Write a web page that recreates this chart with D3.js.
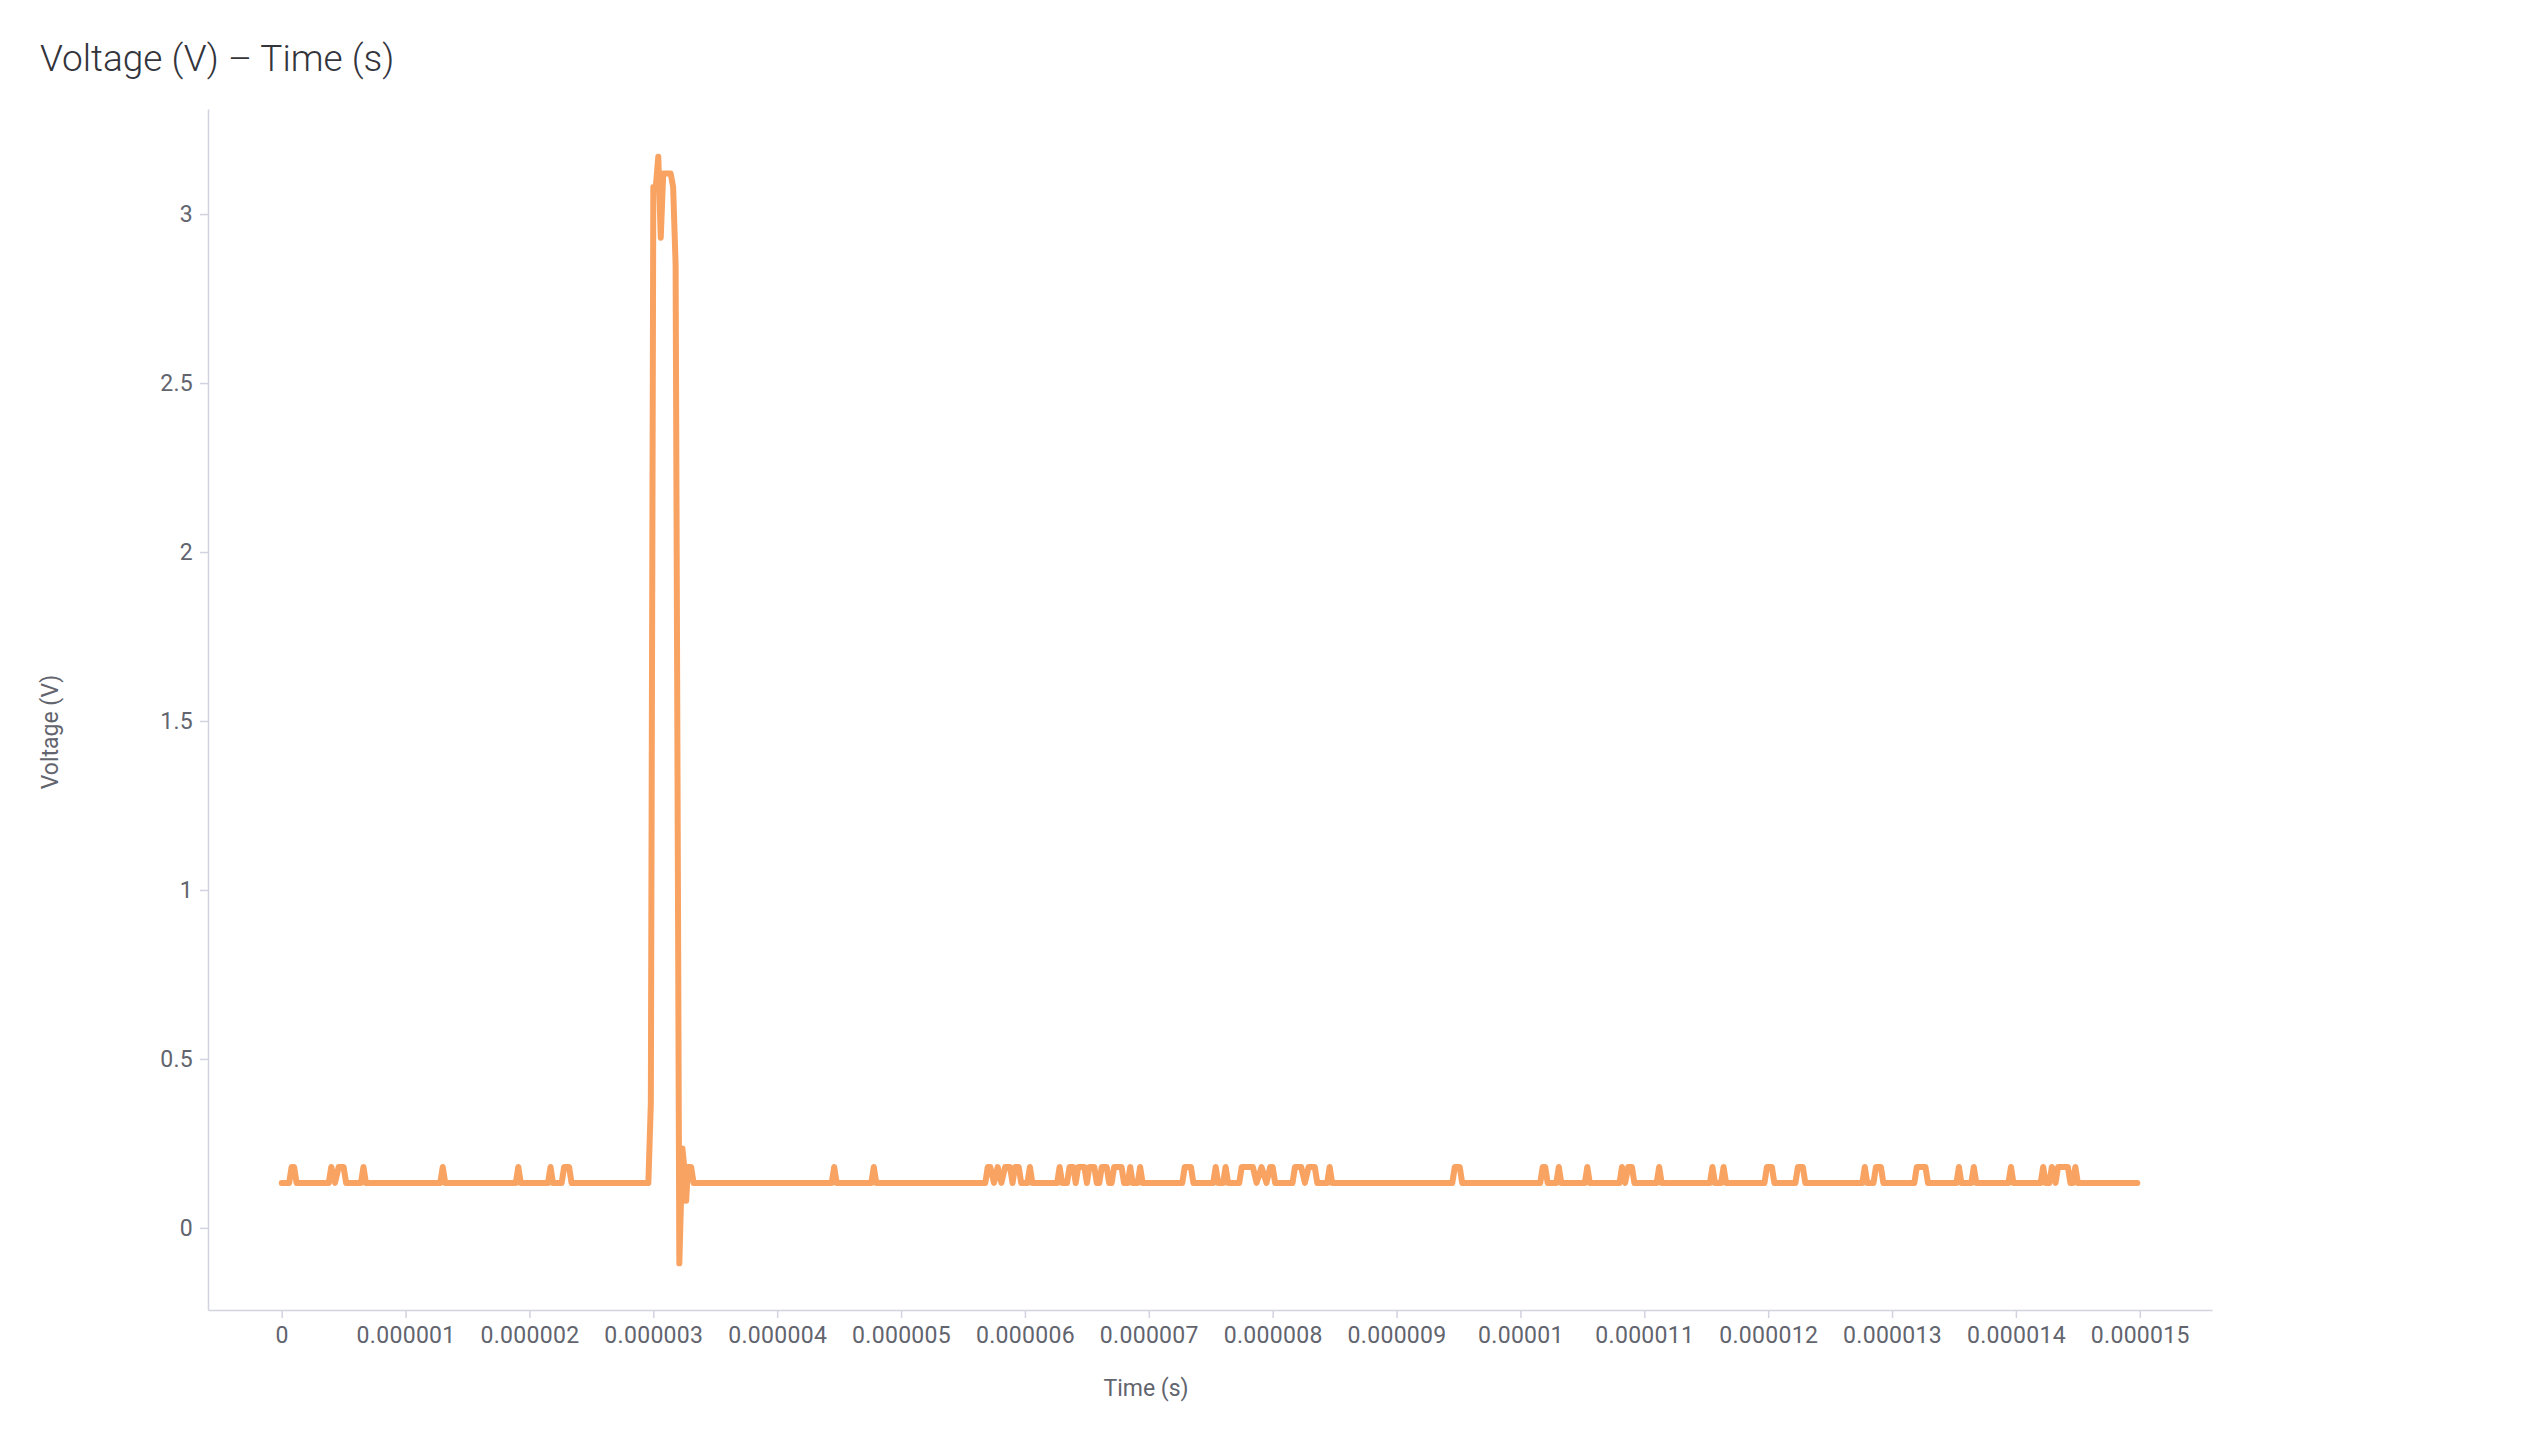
<!DOCTYPE html>
<html>
<head>
<meta charset="utf-8">
<script src="https://cdn.jsdelivr.net/npm/d3@7"></script>
<style>
  body { margin: 0; background: #fff; }
  text { font-family: Roboto, "Noto Sans", sans-serif; }
</style>
</head>
<body>
<svg id="chart"></svg>
<script>
var width = 2544;
var height = 1442;

// time in microseconds, voltage in volts (vertices of the trace)
var trace = [
  [0, 0.133],
  [0.06, 0.133], [0.08, 0.18], [0.10, 0.18], [0.12, 0.133],
  [0.38, 0.133], [0.40, 0.18], [0.43, 0.133], [0.46, 0.18], [0.50, 0.18], [0.52, 0.133],
  [0.64, 0.133], [0.66, 0.18], [0.68, 0.133],
  [1.28, 0.133], [1.30, 0.18], [1.32, 0.133],
  [1.89, 0.133], [1.91, 0.18], [1.93, 0.133],
  [2.15, 0.133], [2.17, 0.18], [2.19, 0.133],
  [2.26, 0.133], [2.28, 0.18], [2.32, 0.18], [2.34, 0.133],
  [2.96, 0.133], [2.98, 0.37], [3.00, 3.08], [3.02, 3.08], [3.04, 3.17], [3.06, 2.93],
  [3.08, 3.12], [3.14, 3.12], [3.16, 3.08], [3.18, 2.85], [3.21, -0.105], [3.235, 0.235],
  [3.25, 0.18], [3.265, 0.08], [3.28, 0.18], [3.305, 0.18], [3.325, 0.133],
  [4.44, 0.133], [4.46, 0.18], [4.48, 0.133],
  [4.76, 0.133], [4.78, 0.18], [4.80, 0.133],
  [5.68, 0.133], [5.70, 0.18], [5.72, 0.18], [5.75, 0.133], [5.78, 0.18], [5.81, 0.133],
  [5.84, 0.18], [5.88, 0.18], [5.90, 0.133], [5.92, 0.18], [5.95, 0.18], [5.97, 0.133],
  [6.02, 0.133], [6.04, 0.18], [6.06, 0.133],
  [6.26, 0.133], [6.28, 0.18], [6.30, 0.133],
  [6.34, 0.133], [6.36, 0.18], [6.39, 0.18], [6.41, 0.133], [6.43, 0.18], [6.48, 0.18],
  [6.50, 0.133], [6.52, 0.18], [6.56, 0.18], [6.58, 0.133],
  [6.60, 0.133], [6.62, 0.18], [6.66, 0.18], [6.68, 0.133],
  [6.70, 0.133], [6.72, 0.18], [6.78, 0.18], [6.80, 0.133],
  [6.83, 0.133], [6.85, 0.18], [6.87, 0.133],
  [6.91, 0.133], [6.93, 0.18], [6.95, 0.133],
  [7.27, 0.133], [7.29, 0.18], [7.34, 0.18], [7.36, 0.133],
  [7.52, 0.133], [7.54, 0.18], [7.56, 0.133],
  [7.60, 0.133], [7.62, 0.18], [7.64, 0.133],
  [7.73, 0.133], [7.75, 0.18], [7.84, 0.18], [7.87, 0.133], [7.91, 0.18], [7.95, 0.133],
  [7.98, 0.18], [8.00, 0.18], [8.02, 0.133],
  [8.16, 0.133], [8.18, 0.18], [8.23, 0.18], [8.26, 0.133], [8.29, 0.18], [8.34, 0.18], [8.36, 0.133],
  [8.44, 0.133], [8.46, 0.18], [8.48, 0.133],
  [9.45, 0.133], [9.47, 0.18], [9.51, 0.18], [9.53, 0.133],
  [10.16, 0.133], [10.18, 0.18], [10.20, 0.18], [10.22, 0.133],
  [10.29, 0.133], [10.31, 0.18], [10.33, 0.133],
  [10.52, 0.133], [10.54, 0.18], [10.56, 0.133],
  [10.80, 0.133], [10.82, 0.18], [10.845, 0.133], [10.87, 0.18], [10.90, 0.18], [10.92, 0.133],
  [11.10, 0.133], [11.12, 0.18], [11.14, 0.133],
  [11.53, 0.133], [11.55, 0.18], [11.57, 0.133],
  [11.62, 0.133], [11.64, 0.18], [11.66, 0.133],
  [11.97, 0.133], [11.99, 0.18], [12.03, 0.18], [12.05, 0.133],
  [12.22, 0.133], [12.24, 0.18], [12.28, 0.18], [12.30, 0.133],
  [12.76, 0.133], [12.78, 0.18], [12.80, 0.133],
  [12.85, 0.133], [12.87, 0.18], [12.91, 0.18], [12.93, 0.133],
  [13.18, 0.133], [13.20, 0.18], [13.27, 0.18], [13.29, 0.133],
  [13.52, 0.133], [13.54, 0.18], [13.56, 0.133],
  [13.64, 0.133], [13.66, 0.18], [13.68, 0.133],
  [13.94, 0.133], [13.96, 0.18], [13.98, 0.133],
  [14.20, 0.133], [14.22, 0.18], [14.24, 0.133],
  [14.27, 0.133], [14.29, 0.18], [14.32, 0.133], [14.34, 0.18], [14.42, 0.18], [14.44, 0.133],
  [14.46, 0.133], [14.48, 0.18], [14.50, 0.133],
  [14.98, 0.133]
];

var xTicks = [0, 1, 2, 3, 4, 5, 6, 7, 8, 9, 10, 11, 12, 13, 14, 15];
var xTickLabels = ["0", "0.000001", "0.000002", "0.000003", "0.000004", "0.000005",
  "0.000006", "0.000007", "0.000008", "0.000009", "0.00001", "0.000011",
  "0.000012", "0.000013", "0.000014", "0.000015"];
var yTicks = [0, 0.5, 1, 1.5, 2, 2.5, 3];
var yTickLabels = ["0", "0.5", "1", "1.5", "2", "2.5", "3"];

var plotLeft = 208, plotRight = 2212, plotTop = 109, plotBottom = 1310;

var svg = d3.select('#chart')
    .attr('width', width)
    .attr('height', height);

var x = d3.scaleLinear()
    .domain([-0.595, 15.583])
    .range([plotLeft, plotRight]);

var y = d3.scaleLinear()
    .domain([-0.243, 3.311])
    .range([plotBottom, plotTop]);

var axisColor = '#d2d3e0';
var textColor = '#62646e';

var xAxis = svg.append('g')
    .attr('transform', 'translate(0,' + plotBottom + ')')
    .call(d3.axisBottom(x)
        .tickValues(xTicks)
        .tickFormat(function(d, i){ return xTickLabels[i]; })
        .tickSize(8)
        .tickSizeOuter(0)
        .tickPadding(9));

var yAxis = svg.append('g')
    .attr('transform', 'translate(' + plotLeft + ',0)')
    .call(d3.axisLeft(y)
        .tickValues(yTicks)
        .tickFormat(function(d, i){ return yTickLabels[i]; })
        .tickSize(8)
        .tickSizeOuter(0)
        .tickPadding(7));

[xAxis, yAxis].forEach(function(g){
    g.select('.domain').attr('stroke', axisColor).attr('stroke-width', 1.5);
    g.selectAll('.tick line').attr('stroke', axisColor).attr('stroke-width', 1.5);
    g.selectAll('.tick text')
        .attr('fill', textColor)
        .style('font-size', '23px')
        .style('letter-spacing', '0.3px')
        .style('font-family', 'Roboto, sans-serif');
});

var line = d3.line()
    .x(function(d){ return x(d[0]); })
    .y(function(d){ return y(d[1]); });

svg.append('path')
    .datum(trace)
    .attr('d', line)
    .attr('fill', 'none')
    .attr('stroke', '#f9a363')
    .attr('stroke-width', 6)
    .attr('stroke-linejoin', 'round')
    .attr('stroke-linecap', 'round');

// title
svg.append('text')
    .attr('x', 40)
    .attr('y', 71)
    .attr('fill', '#33343c')
    .style('font-size', '37px')
    .style('font-weight', 300)
    .text('Voltage (V) \u2013 Time (s)');

// axis titles
svg.append('text')
    .attr('transform', 'translate(58,732) rotate(-90)')
    .attr('text-anchor', 'middle')
    .attr('fill', textColor)
    .style('font-size', '23px')
    .text('Voltage (V)');

svg.append('text')
    .attr('x', 1146)
    .attr('y', 1396)
    .attr('text-anchor', 'middle')
    .attr('fill', textColor)
    .style('font-size', '23px')
    .text('Time (s)');
</script>
</body>
</html>
